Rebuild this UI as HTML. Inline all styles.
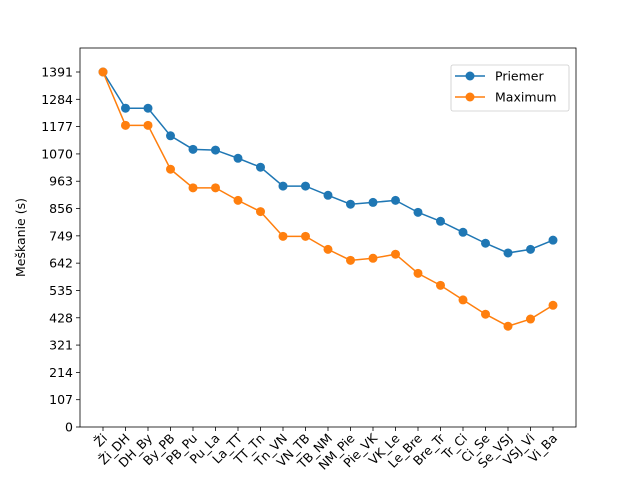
<!DOCTYPE html>
<html><head><meta charset="utf-8"><style>
body{margin:0;background:#fff;}
svg text{font-family:"DejaVu Sans","Liberation Sans",sans-serif;}
</style></head><body>
<svg id="chart" width="640" height="480" xmlns="http://www.w3.org/2000/svg">
<rect width="640" height="480" fill="#fff"/>
<g id="plot"></g>
</svg>
<script>
const categories=["Ži","Ži_DH","DH_By","By_PB","PB_Pu","Pu_La","La_TT","TT_Tn","Tn_VN","VN_TB","TB_NM","NM_Pie","Pie_VK","VK_Le","Le_Bre","Bre_Tr","Tr_Ci","Ci_Se","Se_VSJ","VSJ_Vi","Vi_Ba"];
const priemer=[1391,1249,1249,1141,1088,1085,1053,1018,944,944,908,873,880,888,841,806,763,720,682,696,732];
const maximum=[1391,1182,1182,1010,937,937,888,844,747,747,696,653,661,677,602,555,498,442,395,423,477];
const yTicks=[0,107,214,321,428,535,642,749,856,963,1070,1177,1284,1391];
const L=80,R=576,T=48,B=427;
function xs(i){return 103+i*(553-103)/(categories.length-1);}
function ys(v){return B-v*(427-72)/1391;}
const NS="http://www.w3.org/2000/svg";
const g=document.getElementById('plot');
function mk(tag,attrs,parent){const e=document.createElementNS(NS,tag);for(const k in attrs)e.setAttribute(k,attrs[k]);(parent||g).appendChild(e);return e;}
yTicks.forEach(t=>{
  const y=ys(t);
  const tk=mk('line',{x1:L-4,x2:L,y1:y,y2:y,stroke:'#000','stroke-width':0.8});
  
  
  const tx=mk('text',{x:L-7,y:y+4.5,'text-anchor':'end','font-size':12.5});
  tx.textContent=t;
  
  
});
categories.forEach((c,i)=>{
  const x=xs(i);
  const tk=mk('line',{x1:x,x2:x,y1:B,y2:B+4,stroke:'#000','stroke-width':0.8});
  
  
  const tx=mk('text',{x:0,y:0,'text-anchor':'end','font-size':12.5,transform:`translate(${x+5},${B+12}) rotate(-45)`});
  tx.textContent=c;
  
  
});
function series(vals,color,name){
  const pts=vals.map((v,i)=>xs(i)+','+ys(v)).join(' ');
  const pl=mk('polyline',{points:pts,fill:'none',stroke:color,'stroke-width':1.5});
  
  
  vals.forEach((v,i)=>{
    const c=mk('circle',{cx:xs(i),cy:ys(v),r:4.5,fill:color});
    
    
  });
}
series(priemer,'#1f77b4','priemer');
series(maximum,'#ff7f0e','maximum');
const fr=mk('rect',{x:L,y:T,width:R-L,height:B-T,fill:'none',stroke:'#000','stroke-width':0.8});


const yl=mk('text',{x:0,y:0,'text-anchor':'middle','font-size':12.5,transform:`translate(25,${(T+B)/2}) rotate(-90)`});
yl.textContent='Meškanie (s)';


const lg=mk('g',{});


mk('rect',{x:451,y:65,width:118,height:46,rx:2,fill:'#fff',stroke:'#ccc','stroke-width':0.8},lg);
[['Priemer','#1f77b4',76],['Maximum','#ff7f0e',97]].forEach(([n,c,y])=>{
  const e=mk('g',{},lg);
  
  
  mk('line',{x1:455,x2:485,y1:y,y2:y,stroke:c,'stroke-width':1.5},e);
  mk('circle',{cx:470,cy:y,r:4.5,fill:c},e);
  const t=mk('text',{x:495,y:y+4.5,'font-size':12.5},e);
  t.textContent=n;
});
</script>
</body></html>
